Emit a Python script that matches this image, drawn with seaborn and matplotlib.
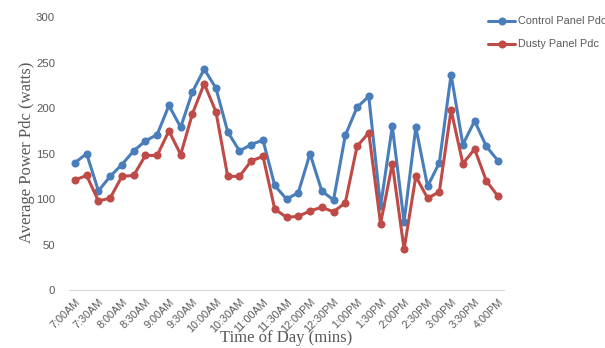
import matplotlib
matplotlib.use("Agg")
import matplotlib.pyplot as plt
import seaborn as sns
import pandas as pd
import numpy as np

times = ["7:00AM", "7:15AM", "7:30AM", "7:45AM", "8:00AM", "8:15AM", "8:30AM", "8:45AM",
         "9:00AM", "9:15AM", "9:30AM", "9:45AM", "10:00AM", "10:15AM", "10:30AM", "10:45AM",
         "11:00AM", "11:15AM", "11:30AM", "11:45AM", "12:00PM", "12:15PM", "12:30PM", "12:45PM",
         "1:00PM", "1:15PM", "1:30PM", "1:45PM", "2:00PM", "2:15PM", "2:30PM", "2:45PM",
         "3:00PM", "3:15PM", "3:30PM", "3:45PM", "4:00PM"]

control = [140, 150, 109, 125, 138, 153, 164, 171, 203, 179, 218, 243, 222, 174, 153, 160,
           165, 115, 100, 107, 150, 109, 99, 170, 201, 213, 92, 180, 75, 179, 114, 140,
           237, 160, 186, 158, 142]

dusty = [121, 126, 98, 101, 125, 126, 148, 148, 175, 149, 194, 227, 196, 125, 125, 142,
         147, 89, 80, 81, 87, 91, 86, 96, 158, 173, 73, 139, 45, 125, 101, 108,
         198, 139, 155, 120, 103]

series_names = ["Control Panel Pdc", "Dusty Panel Pdc"]
colors = ["#4a7ebb", "#be4b48"]
tick_labels = times[::2]

n = len(times)
df = pd.DataFrame({
    "idx": list(range(n)) * 2,
    "value": control + dusty,
    "series": [series_names[0]] * n + [series_names[1]] * n,
})

sns.set_theme(style="white")
plt.rcParams["font.family"] = ["Liberation Sans", "DejaVu Sans"]

fig = plt.figure(figsize=(6.05, 3.48), dpi=100)
ax = fig.add_axes([69 / 605, 1 - 290 / 348, (504 - 69) / 605, (290 - 17.3) / 348])

sns.lineplot(data=df, x="idx", y="value", hue="series", palette=colors,
             marker="o", markersize=5.8, markeredgewidth=0, linewidth=2.2,
             ax=ax, legend=True)

ax.set_xlim(-0.5, n - 0.5)
ax.set_ylim(0, 300)
ax.set_yticks(range(0, 301, 50))
ax.set_xticks(range(0, n, 2))
ax.set_xticklabels(tick_labels, rotation=45, ha="right", rotation_mode="anchor",
                   fontsize=7.8, color="#595959")
ax.tick_params(axis="y", labelsize=8.2, labelcolor="#595959", length=0, pad=10)
ax.tick_params(axis="x", length=0, pad=5)

for s in ["top", "right", "left"]:
    ax.spines[s].set_visible(False)
ax.spines["bottom"].set_color("#d9d9d9")
ax.spines["bottom"].set_linewidth(0.8)

ax.set_ylabel("")
ax.set_xlabel("")
fig.text(27 / 605, 1 - 152 / 348, "Average Power Pdc (watts)", family="Liberation Serif",
         fontsize=12, color="#595959", ha="center", va="center", rotation=90)
fig.text(286 / 605, 1 - 338 / 348, "Time of Day (mins)", family="Liberation Serif",
         fontsize=12, color="#595959", ha="center", va="center")

leg = ax.legend(loc="upper left", bbox_to_anchor=(484 / 605, 1 - 12 / 348),
                bbox_transform=fig.transFigure, frameon=False, fontsize=7.8,
                handlelength=2.5, handletextpad=0.2, labelspacing=1.2, borderaxespad=0)
for t in leg.get_texts():
    t.set_color("#595959")

fig.savefig("out.png", dpi=100)
